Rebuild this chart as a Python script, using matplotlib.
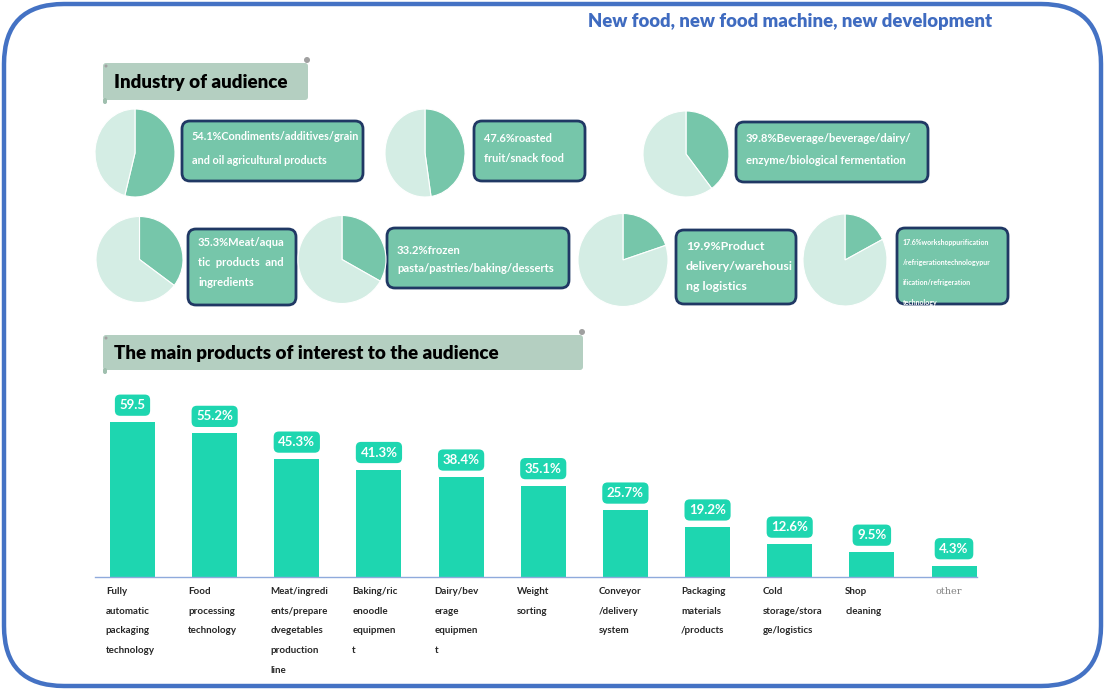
import matplotlib.pyplot as plt
from matplotlib.patches import FancyBboxPatch, Circle

plt.rcParams['font.family'] = ['Lato', 'DejaVu Sans']

W, H = 1105, 690

# audience industry shares (pies)
pie_shares = [54.1, 47.6, 39.8, 35.3, 33.2, 19.9, 17.6]
pie_labels = [
    "Condiments/additives/grain\nand oil agricultural products",
    "roasted\nfruit/snack food",
    "Beverage/beverage/dairy/\nenzyme/biological fermentation",
    "Meat/aqua\ntic  products  and\ningredients",
    "frozen\npasta/pastries/baking/desserts",
    "Product\ndelivery/warehousi\nng logistics",
    "workshoppurification\n/refrigerationtechnologypur\nification/refrigeration\ntechnology",
]

# products of interest (bars)
products = [
    "Fully\nautomatic\npackaging\ntechnology",
    "Food\nprocessing\ntechnology",
    "Meat/ingredi\nents/prepare\ndvegetables\nproduction\nline",
    "Baking/ric\nenoodle\nequipmen\nt",
    "Dairy/bev\nerage\nequipmen\nt",
    "Weight\nsorting",
    "Conveyor\n/delivery\nsystem",
    "Packaging\nmaterials\n/products",
    "Cold\nstorage/stora\nge/logistics",
    "Shop\ncleaning",
    "other",
]
interest = [59.5, 55.2, 45.3, 41.3, 38.4, 35.1, 25.7, 19.2, 12.6, 9.5, 4.3]
interest_labels = ["59.5", "55.2%", "45.3%", "41.3%", "38.4%", "35.1%",
                   "25.7%", "19.2%", "12.6%", "9.5%", "4.3%"]

BLUE = '#4472c4'
NAVY = '#203864'
PIE_DARK = '#76c6aa'
PIE_LIGHT = '#d4ede4'
BAR = '#1ed6b0'
BANNER = '#b4cfc1'


def px_axes(fig, x0, y0, w, h):
    return fig.add_axes([x0 / W, 1 - (y0 + h) / H, w / W, h / H])


fig = plt.figure(figsize=(W / 100, H / 100), dpi=100)
ax0 = fig.add_axes([0, 0, 1, 1])
ax0.set_xlim(0, W)
ax0.set_ylim(H, 0)
ax0.axis('off')

# outer rounded frame
ax0.add_patch(FancyBboxPatch((4, 4), W - 8, H - 8,
                             boxstyle="round,pad=0,rounding_size=60",
                             fc='white', ec=BLUE, lw=3.2))

ax0.text(790, 22, "New food, new food machine, new development", ha='center',
         va='center', fontsize=13.3, fontweight='heavy', color='#3f6bc0')


def banner(x0, y0, x1, y1, title):
    ax0.add_patch(FancyBboxPatch((x0, y0), x1 - x0, y1 - y0,
                                 boxstyle="round,pad=0,rounding_size=3",
                                 fc=BANNER, ec='none'))
    ax0.add_patch(Circle((x1 - 1, y0 - 3), 3, fc='#a0a0a0', ec='none'))
    ax0.add_patch(Circle((x0 + 3, y0 + 3), 1.5, fc='#a0a0a0', ec='none'))
    ax0.add_patch(FancyBboxPatch((x0, y1 - 2), 4, 6,
                                 boxstyle="round,pad=0,rounding_size=2",
                                 fc='#9fbfae', ec='none'))
    ax0.text(x0 + 11, (y0 + y1) / 2 + 1, title, ha='left', va='center',
             fontsize=13.5, fontweight='heavy', color='black')


banner(103, 63, 308, 100, "Industry of audience")
banner(103, 335, 583, 370, "The main products of interest to the audience")

# pies: (cx, cy, rx, ry) in pixels
pie_geom = [(135, 153, 40, 44), (425, 153, 40, 44), (686, 154, 43, 43),
            (139.5, 259.5, 43.5, 43), (342, 259.5, 44, 44),
            (623, 260, 45, 46.5), (845, 260, 42, 46)]
# text boxes: (x0, y0, x1, y1, first line y, line step, font size)
box_geom = [(182, 121, 363, 181, 137, 23, 7.8),
            (474, 121, 585, 181, 138, 20, 7.9),
            (736, 122, 928, 182, 139, 21, 8.1),
            (188, 229, 296, 305, 242, 20, 8.0),
            (387, 228, 569, 288, 250, 19, 8.1),
            (676, 230, 796, 304, 247, 20, 8.9),
            (897, 228, 1008, 304, 242, 20, 5.0)]

for share, label, (cx, cy, rx, ry), box in zip(pie_shares, pie_labels, pie_geom, box_geom):
    ax = px_axes(fig, cx - rx, cy - ry, 2 * rx, 2 * ry)
    ax.pie([share, 100 - share], colors=[PIE_DARK, PIE_LIGHT], startangle=90,
           counterclock=False, wedgeprops=dict(edgecolor='white', linewidth=0.8))
    ax.set_aspect('auto')
    ax.set_xlim(-1, 1)
    ax.set_ylim(-1, 1)

    x0, y0, x1, y1, ly, dy, fs = box
    ax0.add_patch(FancyBboxPatch((x0, y0), x1 - x0, y1 - y0,
                                 boxstyle="round,pad=0,rounding_size=8",
                                 fc=PIE_DARK, ec=NAVY, lw=2, zorder=3))
    lines = (f"{share}%" + label).split("\n")
    tx = x0 + 6 if fs < 6 else x0 + 10
    for k, line in enumerate(lines):
        y = ly + k * dy
        if y < y1:
            ax0.text(tx, y, line, ha='left', va='center', fontsize=fs,
                     fontweight='bold', color='white', zorder=4)
        else:
            # overflow line that sticks out under the box
            ax0.text(tx, y - 1, line, ha='left', va='center', fontsize=fs,
                     color=BLUE, zorder=2)

# bar chart
step = 82.15
axb = px_axes(fig, 95, 380, 977 - 95, 577 - 380)
x = list(range(len(interest)))
bw = 45 / step
axb.bar(x, interest, width=bw, color=BAR)
axb.set_xlim(-(132.5 - 95) / step, 10 + (977 - 954) / step)
axb.set_ylim(0, 197 / 2.6)
for s in ['top', 'right', 'left']:
    axb.spines[s].set_visible(False)
axb.spines['bottom'].set_color('#8faadc')
axb.spines['bottom'].set_linewidth(1)
axb.set_xticks([])
axb.set_yticks([])
axb.patch.set_alpha(0)

for i, (v, lab) in enumerate(zip(interest, interest_labels)):
    axb.annotate(lab, (i, v), xytext=(0, 8), textcoords='offset points',
                 ha='center', va='bottom', fontsize=9.5, fontweight='bold',
                 color='white',
                 bbox=dict(boxstyle='round,pad=0.35,rounding_size=0.4',
                           fc=BAR, ec='none'))

for i, name in enumerate(products):
    if name == "other":
        axb.annotate(name, (i - bw / 2, 0), xytext=(3, -7),
                     textcoords='offset points', ha='left', va='top',
                     fontsize=7, color='#808080', family='DejaVu Serif',
                     annotation_clip=False)
    else:
        axb.annotate(name, (i - bw / 2, 0), xytext=(-3, -7),
                     textcoords='offset points', ha='left', va='top',
                     fontsize=7, fontweight='bold', color='#262626',
                     linespacing=2.55, annotation_clip=False)

fig.savefig('out.png', dpi=100)
